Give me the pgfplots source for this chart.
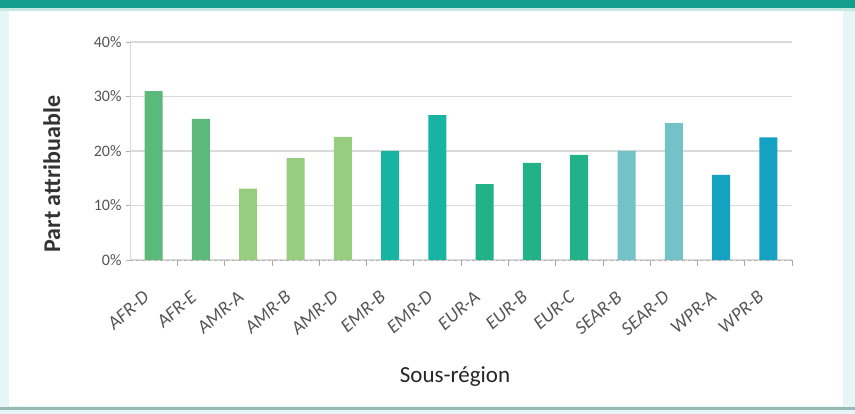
\documentclass[border=0pt]{standalone}
\usepackage{pgfplots}
\pgfplotsset{compat=1.18}
\usepackage{fontspec}
\setmainfont{Carlito}

\definecolor{afr}{HTML}{5CB97C}
\definecolor{amr}{HTML}{96CD7F}
\definecolor{emr}{HTML}{17B3A3}
\definecolor{eur}{HTML}{22B287}
\definecolor{sear}{HTML}{72C2C8}
\definecolor{wpr}{HTML}{14A2C2}
\definecolor{band}{HTML}{139F8B}
\definecolor{edge}{HTML}{E6F6F6}
\definecolor{gridc}{HTML}{DADADA}
\definecolor{tickc}{HTML}{555555}

\begin{document}
\begin{tikzpicture}
  \useasboundingbox (0pt,0pt) rectangle (855pt,414pt);
  % panel frame
  \fill[edge] (0pt,0pt) rectangle (855pt,414pt);
  \fill[white] (9pt,8pt) rectangle (843pt,403pt);
  \fill[band] (0pt,406pt) rectangle (855pt,414pt);
  \fill[band!25] (0pt,403pt) rectangle (855pt,406pt);
  \fill[band!40!gray!60] (0pt,4pt) rectangle (855pt,7pt);

  \begin{axis}[
      at={(130pt,154pt)}, anchor=south west,
      width=662pt, height=218pt, scale only axis,
      xmin=-0.5, xmax=13.5, ymin=0, ymax=40,
      ybar, bar width=18pt, bar shift=0pt,
      axis x line*=bottom, axis y line*=left,
      x axis line style={draw=gray!60, dashed, line width=0.6pt},
      y axis line style={draw=gray!30, line width=0.8pt},
      ytick={0,10,20,30,40},
      yticklabel={\pgfmathprintnumber{\tick}\%},
      /pgf/number format/assume math mode=true,
      ymajorgrids, major grid style={draw=gridc, line width=1.2pt},
      xtick={0,...,13},
      xticklabels={AFR-D,AFR-E,AMR-A,AMR-B,AMR-D,EMR-B,EMR-D,EUR-A,EUR-B,EUR-C,SEAR-B,SEAR-D,WPR-A,WPR-B},
      minor xtick={0.5,1.5,...,13.5},
      major x tick style={draw=none},
      minor x tick style={draw=gray!70, line width=0.6pt},
      minor tick length=6pt,
      y tick style={draw=gray!60, line width=0.6pt},
      major tick length=4pt,
      tick align=outside,
      yticklabel style={font=\fontsize{16}{18}\selectfont, text=tickc, xshift=-1pt},
      xticklabel style={xshift=-11pt, yshift=-21pt, rotate=41, anchor=north east,
                        font=\fontsize{19}{21}\selectfont\itshape, text=tickc},
      ylabel={Part attribuable},
      ylabel style={at={(axis description cs:-0.118,0.394)}, anchor=center,
                    font=\fontsize{24}{26}\selectfont\bfseries, text=black!80},
      xlabel={Sous-région},
      xlabel style={at={(axis description cs:0.491,-0.537)}, anchor=center,
                    font=\fontsize{23}{25}\selectfont, text=black!85},
    ]
    % AFR
    \addplot[fill=afr, draw=none] coordinates {(0,31.0) (1,25.9)};
    % AMR
    \addplot[fill=amr, draw=none] coordinates {(2,13.1) (3,18.7) (4,22.6)};
    % EMR
    \addplot[fill=emr, draw=none] coordinates {(5,20.0) (6,26.6)};
    % EUR
    \addplot[fill=eur, draw=none] coordinates {(7,13.9) (8,17.8) (9,19.3)};
    % SEAR
    \addplot[fill=sear, draw=none] coordinates {(10,20.0) (11,25.1)};
    % WPR
    \addplot[fill=wpr, draw=none] coordinates {(12,15.6) (13,22.5)};
  \end{axis}
\end{tikzpicture}
\end{document}
